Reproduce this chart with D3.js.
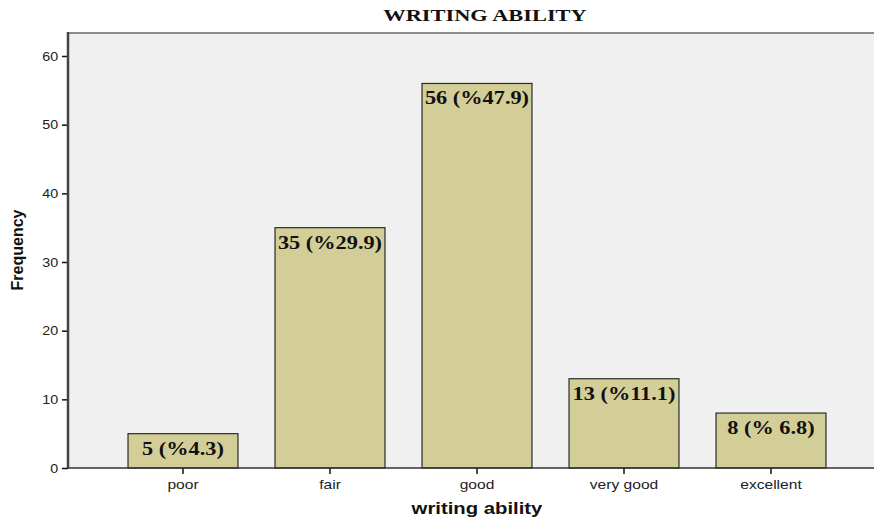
<!DOCTYPE html>
<html><head><meta charset="utf-8">
<script src="https://cdn.jsdelivr.net/npm/d3@7"></script>
<style>body{margin:0;background:#fff;}svg{display:block;}</style>
</head><body>
<svg id="c" width="874" height="520"></svg>
<script>
const categories = ["poor","fair","good","very good","excellent"];
const frequencies = [5,35,56,13,8];
const barLabels = ["5 (%4.3)","35 (%29.9)","56 (%47.9)","13 (%11.1)","8 (% 6.8)"];
const yTicks = [0,10,20,30,40,50,60];
const chartTitle = "WRITING ABILITY";
const xTitle = "writing ability";
const yTitle = "Frequency";

const svg = d3.select("#c");
const L = 68, T = 33, R = 874, B = 468;
const y = d3.scaleLinear().domain([0, 60]).range([B, 56]);
const x = d3.scaleBand().domain(categories).range([109.5, 844.5]).paddingInner(0.252).paddingOuter(0.126);

svg.append("rect").attr("x", L).attr("y", T).attr("width", R - L).attr("height", B - T).attr("fill", "#f0f0f0");
svg.append("line").attr("x1", L).attr("x2", R).attr("y1", T).attr("y2", T).attr("stroke", "#8c8c8c").attr("stroke-width", 2);

// bars
svg.selectAll("rect.bar").data(categories).enter().append("rect").attr("class","bar")
  .attr("x", d => x(d)).attr("width", x.bandwidth())
  .attr("y", (d,i) => y(frequencies[i])).attr("height", (d,i) => B - y(frequencies[i]))
  .attr("fill", "#d3ce98").attr("stroke", "#2a2a2a").attr("stroke-width", 1.2);

// bar labels
const sx = 1.24;
svg.selectAll("text.bl").data(categories).enter().append("text").attr("class","bl")
  .attr("transform", (d,i) => `translate(${x(d) + x.bandwidth()/2},${y(frequencies[i]) + 21}) scale(${sx},1)`)
  .attr("text-anchor", "middle")
  .attr("font-family", "Liberation Serif, Times New Roman, serif").attr("font-weight", "bold").attr("font-size", 18)
  .attr("fill", "#111").text((d,i) => barLabels[i]);

// y axis
const yAxis = svg.append("g").attr("transform", `translate(${L},0)`)
  .call(d3.axisLeft(y).tickValues(yTicks).tickSize(6).tickPadding(3));
yAxis.select(".domain").remove();
yAxis.selectAll(".tick line").attr("stroke", "#111").attr("stroke-width", 1.5);
yAxis.selectAll(".tick text").attr("font-family", "Liberation Sans, Arial, sans-serif").attr("font-size", 13).attr("fill", "#222")
  .attr("transform", "scale(1.1,1)");
svg.append("line").attr("x1", L).attr("x2", L).attr("y1", T - 1).attr("y2", B).attr("stroke", "#444").attr("stroke-width", 2.5);

// x axis
const xAxis = svg.append("g").attr("transform", `translate(0,${B})`)
  .call(d3.axisBottom(x).tickSize(6).tickPadding(6));
xAxis.select(".domain").remove();
xAxis.selectAll(".tick line").attr("stroke", "#111").attr("stroke-width", 1.5);
xAxis.selectAll(".tick text").attr("font-family", "Liberation Sans, Arial, sans-serif").attr("font-size", 13).attr("fill", "#222")
  .attr("transform", "scale(1.2,1)");
svg.append("line").attr("x1", L).attr("x2", R).attr("y1", B).attr("y2", B).attr("stroke", "#333").attr("stroke-width", 1.5);

// titles
svg.append("text").attr("transform", `translate(485,21) scale(1.4,1)`).attr("text-anchor", "middle")
  .attr("font-family", "Liberation Serif, Times New Roman, serif").attr("font-weight", "bold").attr("font-size", 16)
  .attr("fill", "#111").text(chartTitle);
svg.append("text").attr("transform", `translate(477,514) scale(1.27,1)`).attr("text-anchor", "middle")
  .attr("font-family", "Liberation Sans, Arial, sans-serif").attr("font-weight", "bold").attr("font-size", 16)
  .attr("fill", "#111").text(xTitle);
svg.append("text").attr("transform", `translate(23,250) rotate(-90)`).attr("text-anchor", "middle")
  .attr("font-family", "Liberation Sans, Arial, sans-serif").attr("font-weight", "bold").attr("font-size", 16)
  .attr("fill", "#111").text(yTitle);
</script>
</body></html>
